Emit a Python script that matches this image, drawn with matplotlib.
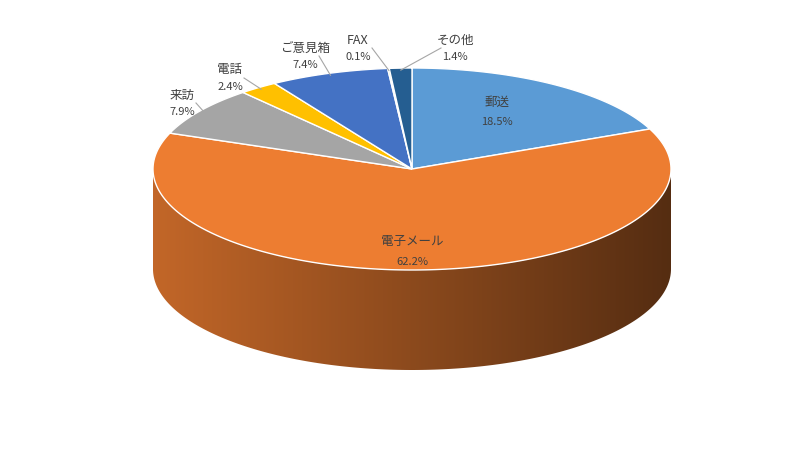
import numpy as np
import matplotlib
matplotlib.use("Agg")
from matplotlib import pyplot as plt
from matplotlib.colors import to_rgb
from matplotlib.patches import Polygon

plt.rcParams['font.family'] = ['Noto Sans CJK JP', 'DejaVu Sans']

labels = ["郵送", "電子メール", "来訪", "電話", "ご意見箱", "FAX", "その他"]
values = [18.5, 62.2, 7.9, 2.4, 7.4, 0.1, 1.4]
colors = ["#5B9BD5", "#ED7D31", "#A5A5A5", "#FFC000", "#4472C4", "#70AD47", "#255E91"]

# ellipse geometry in pixel space
cx, cy, rx, ry, depth = 412, 169, 259, 101, 100

# outside label positions (pixels) for the small slices
label_pos = {2: (182, 95), 3: (230, 70), 4: (305, 48), 5: (358, 40), 6: (455, 40)}


def pt(t):
    return cx + rx * np.cos(t), cy - ry * np.sin(t)


fig = plt.figure(figsize=(8, 4.5), dpi=100)
ax = fig.add_axes([0, 0, 1, 1])
ax.set_xlim(0, 800)
ax.set_ylim(450, 0)
ax.axis('off')

total = sum(values)
cum = np.cumsum([0] + values) / total
starts = np.radians(90 - 360 * cum[:-1])
ends = np.radians(90 - 360 * cum[1:])

# side walls (front half only), gradient from left to right
for i in range(len(values)):
    a0, a1 = ends[i], starts[i]
    base = np.array(to_rgb(colors[i]))
    for shift in (0, -2 * np.pi):
        l, h = max(a0 - shift, -np.pi), min(a1 - shift, 0)
        if h <= l:
            continue
        ts = np.linspace(l, h, 200)
        xs, ys = pt(ts)
        poly = np.c_[np.r_[xs, xs[::-1]], np.r_[ys, ys[::-1] + depth]]
        patch = Polygon(poly, closed=True, fc="none", ec="none")
        ax.add_patch(patch)
        f = np.linspace(0, 1, 256)
        grad = base[None, :] * (0.82 - 0.46 * f)[:, None]
        im = ax.imshow(grad[None, :, :], extent=(cx - rx, cx + rx, cy + depth + ry, cy),
                       aspect="auto", interpolation="bilinear")
        im.set_clip_path(patch)
ax.set_xlim(0, 800)
ax.set_ylim(450, 0)

# top faces
for i in range(len(values)):
    ts = np.linspace(starts[i], ends[i], 200)
    xs, ys = pt(ts)
    ax.fill(np.r_[cx, xs], np.r_[cy, ys], color=colors[i], ec="white", lw=1)

# labels
for i, (lab, v) in enumerate(zip(labels, values)):
    mid = (starts[i] + ends[i]) / 2
    if i in label_pos:
        tx, ty = label_pos[i]
        ex, ey = cx + rx * 0.98 * np.cos(mid), cy - ry * 0.98 * np.sin(mid)
        sx = tx + (14 if tx < ex else -14) if i != 5 else tx + 14
        ax.plot([sx, ex], [ty + 8, ey], color="#A6A6A6", lw=0.8)
        ax.text(tx, ty, lab, ha="center", va="center", fontsize=9, color="#404040")
        ax.text(tx, ty + 17, f"{v}%", ha="center", va="center", fontsize=8, color="#404040")
    elif i == 0:
        ax.text(497, 102, lab, ha="center", va="center", fontsize=9, color="#404040")
        ax.text(497, 122, f"{v}%", ha="center", va="center", fontsize=8, color="#404040")
    else:
        ax.text(412, 241, lab, ha="center", va="center", fontsize=9, color="#404040")
        ax.text(412, 262, f"{v}%", ha="center", va="center", fontsize=8, color="#404040")

fig.savefig("out.png", dpi=100)
